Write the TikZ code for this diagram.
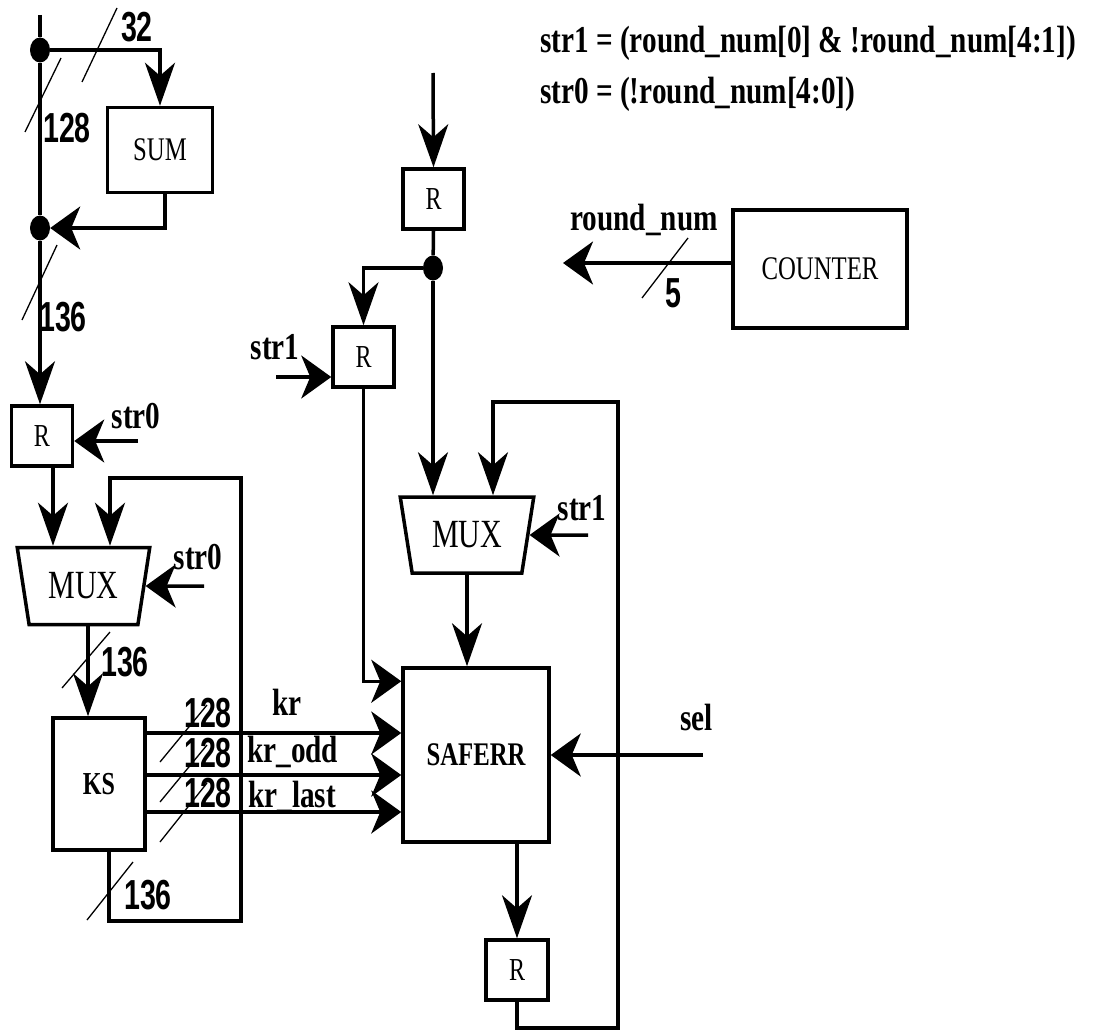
\documentclass[tikz,border=0pt]{standalone}
\usepackage{fontspec}
\setmainfont{Liberation Serif}
\newfontfamily\blkfont[FakeStretch=0.75]{Liberation Serif}
\newfontfamily\lblfont[FakeStretch=0.77]{Liberation Serif}
\newfontfamily\bitfont[FakeStretch=0.68]{Liberation Sans}
\usetikzlibrary{arrows.meta,shapes.geometric,calc}

\tikzset{
  wire/.style={line width=3.5pt},
  sigv/.style={wire, -{Stealth[length=43pt,width=30pt,inset=13pt]}},
  sigh/.style={wire, -{Stealth[length=30pt,width=43pt,inset=9pt]}},
  tick/.style={line width=1.3pt},
  block/.style={draw, line width=3.5pt, inner sep=0pt, font=\blkfont\fontsize{33}{33}\selectfont},
  reg/.style={block, minimum width=61pt, minimum height=60pt, font=\blkfont\fontsize{32}{32}\selectfont},
  mux/.style={block, trapezium, shape border rotate=180, trapezium stretches=true,
    trapezium angle=74, minimum width=133pt, minimum height=77pt, font=\blkfont\fontsize{40}{40}\selectfont},
  jdot/.style={ellipse, fill, minimum width=20pt, minimum height=25pt, inner sep=0pt},
  lbl/.style={font=\lblfont\bfseries\fontsize{38}{38}\selectfont, inner sep=0pt},
  bits/.style={font=\bitfont\bfseries\fontsize{42}{42}\selectfont, inner sep=0pt},
}

\begin{document}
\begin{tikzpicture}[x=1pt, y=-1pt]
  \useasboundingbox (0,0) rectangle (1094,1030);

  % blocks
  \node[block, minimum width=105pt, minimum height=85pt] (sum) at (160,150) {SUM};
  \node[reg] (rA) at (42,436) {R};
  \node[mux] (muxA) at (83.5,586) {MUX};
  \node[block, font=\blkfont\bfseries\fontsize{32}{32}\selectfont, minimum width=92pt, minimum height=132pt] (ks) at (99,784) {KS};
  \node[reg] (rB) at (433.5,199) {R};
  \node[reg] (rC) at (363.5,357) {R};
  \node[mux, minimum width=134pt, minimum height=76pt] (muxB) at (467,535) {MUX};
  \node[block, font=\blkfont\bfseries\fontsize{33}{33}\selectfont, minimum width=146pt, minimum height=174pt] (saferr) at (476,755) {SAFERR};
  \node[reg, minimum width=62pt] (rD) at (517,970) {R};
  \node[block, minimum width=174pt, minimum height=118pt] (counter) at (820,269) {COUNTER};

  % junctions
  \node[jdot] (dA) at (40,50) {};
  \node[jdot] (dB) at (40,228) {};
  \node[jdot] (dC) at (433,268) {};

  % free ends and bends
  \coordinate (busIn) at (40,15);
  \coordinate (topIn) at (433,73);
  \coordinate (s0a) at (138,441);
  \coordinate (s0b) at (204,586);
  \coordinate (s1a) at (276,377);
  \coordinate (s1b) at (588,535);
  \coordinate (selIn) at (703,755);
  \coordinate (rnOut) at (563,263);
  \coordinate (fbA) at (241,921);
  \coordinate (fbB) at (110,478);
  \coordinate (fbC) at (618,1028);
  \coordinate (fbD) at (493,402);

  % left part
  \draw[wire] (busIn) -- (dA) -- (dB);
  \draw[sigv] (dB) -- (rA.north -| dB);
  \draw[sigv] (dA) -| (sum.north);
  \draw[sigh] ([xshift=5pt]sum.south) |- (dB.east);
  \draw[sigh] (s0a) -- (s0a -| rA.east);
  \draw[sigv] ([xshift=11pt]rA.south) -- ([xshift=11pt]rA.south |- muxA.north);
  \draw[sigv] ([xshift=10pt]ks.south) |- (fbA) |- (fbB) -- (fbB |- muxA.north);
  \draw[sigh] (s0b) -- (muxA.east);
  \draw[sigv] ([xshift=4.5pt]muxA.south) -- ([xshift=4.5pt]muxA.south |- ks.north);
  \foreach \dy/\n in {-51/1, -9/2, 28/3}
    \draw[sigh] ($(ks.east)+(0,\dy)$) coordinate (k\n) -- (k\n -| saferr.west);

  % right part
  \draw[sigv] (topIn) -- (rB.north);
  \draw[wire] (rB.south) -- (dC);
  \draw[sigv] (dC) -| (rC.north);
  \draw[sigv] (dC) -- (dC |- muxB.north);
  \draw[sigh] (s1a) -- (s1a -| rC.west);
  \draw[sigh] (rC.south) |- ($(saferr.north west)+(0,15)$);
  \draw[sigh] (s1b) -- (muxB.east);
  \draw[sigv] (muxB.south) -- (muxB.south |- saferr.north);
  \draw[sigh] (selIn) -- (saferr.east);
  \draw[sigv] (saferr.south -| rD.north) -- (rD.north);
  \draw[sigv] (rD.south) |- (fbC) |- (fbD) -- (fbD |- muxB.north);
  \draw[sigh] (counter.west |- rnOut) -- (rnOut);

  % bus widths
  \draw[tick] (82,82) -- (117,8);
  \draw[tick] (25,132) -- (61,58);
  \draw[tick] (22,320) -- (57,245);
  \draw[tick] (62,688) -- (110,632);
  \draw[tick] (160,762) -- (207,705);
  \draw[tick] (160,802) -- (207,745);
  \draw[tick] (160,842) -- (207,783);
  \draw[tick] (87,920) -- (133,862);
  \draw[tick] (642,298) -- (688,238);
  \node[bits] (w32) at (137,27) {32};
  \node[bits] (w128) at (67,128) {128};
  \node[bits] (w136a) at (63,317) {136};
  \node[bits] (w136b) at (125,662) {136};
  \node[bits] (wkr) at (208,713) {128};
  \node[bits] (wodd) at (208,753) {128};
  \node[bits] (wlast) at (208,793) {128};
  \node[bits] (w136c) at (148,895) {136};
  \node[bits] (w5) at (673,293) {5};

  % signal names
  \node[lbl] (str0a) at (136,416) {str0};
  \node[lbl] (str0b) at (198,557) {str0};
  \node[lbl] (str1a) at (275,347) {str1};
  \node[lbl] (str1b) at (582,508) {str1};
  \node[lbl, anchor=base west] (kr) at (272,715) {kr};
  \node[lbl, anchor=base west] (krodd) at (247,762) {kr\_odd};
  \node[lbl, anchor=base west] (krlast) at (248,807) {kr\_last};
  \node[lbl, anchor=base west] (sel) at (680,730) {sel};
  \node[lbl, anchor=base west] (rnum) at (570,230) {round\_num};
  \node[lbl, anchor=base west] (eqA) at (540,53) {str1 = (round\_num[0] \& !round\_num[4:1])};
  \node[lbl, anchor=base west] (eqB) at (540,103) {str0 = (!round\_num[4:0])};
\end{tikzpicture}
\end{document}
